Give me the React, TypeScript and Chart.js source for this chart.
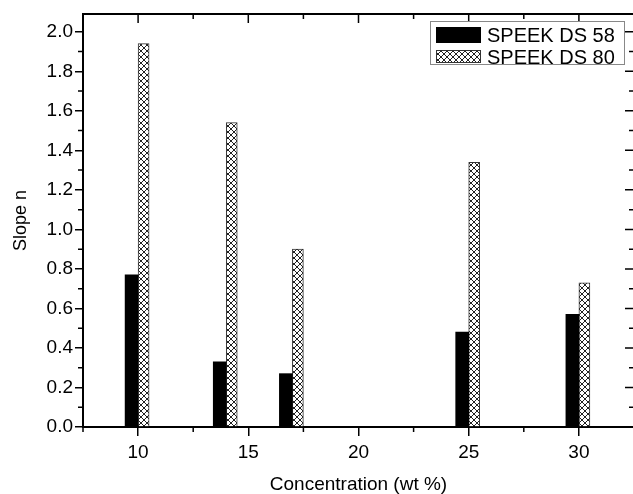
import React, { useEffect, useRef } from 'react';
import { Chart, registerables } from 'chart.js';

Chart.register(...registerables);

const concentrations = [10, 14, 17, 25, 30];
const ds58Values = [0.77, 0.33, 0.27, 0.48, 0.57];
const ds80Values = [1.94, 1.54, 0.9, 1.34, 0.73];
const seriesLabels = ['SPEEK DS 58', 'SPEEK DS 80'];
const xTicks = [10, 15, 20, 25, 30];
const xMinorTicks = [7.5, 12.5, 17.5, 22.5, 27.5, 32.5];
const yTicks = [0, 0.2, 0.4, 0.6, 0.8, 1.0, 1.2, 1.4, 1.6, 1.8, 2.0];
const yMinorTicks = [0.1, 0.3, 0.5, 0.7, 0.9, 1.1, 1.3, 1.5, 1.7, 1.9];
const xTitle = 'Concentration (wt %)';
const yTitle = 'Slope n';

const FONT = '"Liberation Sans", Arial, Helvetica, sans-serif';

function makeHatch(): CanvasPattern | string {
  const c = document.createElement('canvas');
  c.width = 6;
  c.height = 6;
  const g = c.getContext('2d');
  if (!g) return '#ccc';
  g.fillStyle = '#fff';
  g.fillRect(0, 0, 6, 6);
  g.strokeStyle = '#222';
  g.lineWidth = 1;
  g.beginPath();
  g.moveTo(0, 0);
  g.lineTo(6, 6);
  g.moveTo(6, 0);
  g.lineTo(0, 6);
  g.stroke();
  const p = g.createPattern(c, 'repeat');
  return p || '#ccc';
}

export default function App() {
  const ref = useRef<HTMLCanvasElement | null>(null);

  useEffect(() => {
    const canvas = ref.current;
    if (!canvas) return;
    const hatch = makeHatch();

    const framePlugin = {
      id: 'frame',
      afterDraw(chart: any) {
        const { ctx, chartArea: a } = chart;
        const x = chart.scales.x;
        const y = chart.scales.y;
        ctx.save();
        ctx.strokeStyle = '#000';
        ctx.lineWidth = 2;
        ctx.beginPath();
        ctx.moveTo(a.left - 1, a.top);
        ctx.lineTo(a.right, a.top);
        ctx.moveTo(a.right, a.top);
        ctx.lineTo(a.right, a.bottom);
        ctx.stroke();

        ctx.lineWidth = 1.5;
        ctx.beginPath();
        for (const v of xTicks) {
          const px = x.getPixelForValue(v);
          ctx.moveTo(px, a.top);
          ctx.lineTo(px, a.top + 9);
        }
        for (const v of xMinorTicks) {
          const px = x.getPixelForValue(v);
          ctx.moveTo(px, a.bottom);
          ctx.lineTo(px, a.bottom + 5);
          ctx.moveTo(px, a.top);
          ctx.lineTo(px, a.top + 5);
        }
        for (const v of yTicks) {
          const py = y.getPixelForValue(v);
          ctx.moveTo(a.right, py);
          ctx.lineTo(a.right - 9, py);
        }
        for (const v of yMinorTicks) {
          const py = y.getPixelForValue(v);
          ctx.moveTo(a.left, py);
          ctx.lineTo(a.left - 5, py);
          ctx.moveTo(a.right, py);
          ctx.lineTo(a.right - 5, py);
        }
        ctx.stroke();

        // legend
        const bx = a.right - 204;
        const by = a.top + 7;
        ctx.fillStyle = '#fff';
        ctx.fillRect(bx, by, 194, 43);
        ctx.strokeStyle = '#888';
        ctx.lineWidth = 1;
        ctx.strokeRect(bx + 0.5, by + 0.5, 194, 43);

        const ds = chart.data.datasets;
        // swatch 1
        ctx.fillStyle = ds[0].backgroundColor;
        ctx.fillRect(bx + 6, by + 6, 45, 16);
        // swatch 2
        ctx.fillStyle = ds[1].backgroundColor;
        ctx.fillRect(bx + 6, by + 29, 45, 13);
        ctx.strokeStyle = '#333';
        ctx.strokeRect(bx + 6.5, by + 29.5, 44, 12);

        ctx.fillStyle = '#000';
        ctx.font = '20px ' + FONT;
        ctx.textAlign = 'left';
        ctx.textBaseline = 'middle';
        ctx.fillText(ds[0].label, bx + 57, by + 15);
        ctx.fillText(ds[1].label, bx + 57, by + 37);
        ctx.restore();
      },
    };

    const chart = new Chart(canvas, {
      type: 'bar',
      data: {
        datasets: [
          {
            label: seriesLabels[0],
            data: concentrations.map((c, i) => ({ x: c, y: ds58Values[i] })),
            backgroundColor: '#000',
            borderWidth: 0,
            barThickness: 13,
          },
          {
            label: seriesLabels[1],
            data: concentrations.map((c, i) => ({ x: c, y: ds80Values[i] })),
            backgroundColor: hatch as any,
            borderColor: '#333',
            borderWidth: 1,
            barThickness: 11,
          },
        ],
      },
      options: {
        responsive: false,
        animation: false,
        devicePixelRatio: 1,
        layout: { padding: { top: 14, right: 2, left: 0, bottom: 0 } },
        plugins: { legend: { display: false }, tooltip: { enabled: false } },
        scales: {
          x: {
            type: 'linear',
            position: 'bottom',
            min: 7.5,
            max: 32.5,
            offset: false,
            afterFit(scale: any) {
              scale.height = 67;
            },
            afterBuildTicks(scale: any) {
              scale.ticks = xTicks.map((v) => ({ value: v }));
            },
            grid: {
              offset: false,
              drawOnChartArea: false,
              drawTicks: true,
              tickLength: 9,
              lineWidth: 1.5,
              color: '#000',
            },
            border: { display: true, width: 2, color: '#000' },
            ticks: {
              color: '#000',
              padding: 5,
              maxRotation: 0,
              font: { family: FONT, size: 19 },
              callback: (v: any) => String(v),
            },
            title: {
              display: true,
              text: xTitle,
              color: '#000',
              font: { family: FONT, size: 19, lineHeight: 1 },
              padding: { top: 0, bottom: 0 },
            },
          },
          y: {
            type: 'linear',
            min: 0,
            max: 2.09,
            afterFit(scale: any) {
              scale.width = 83;
            },
            afterBuildTicks(scale: any) {
              scale.ticks = yTicks.map((v) => ({ value: v }));
            },
            grid: {
              drawOnChartArea: false,
              drawTicks: true,
              tickLength: 8,
              lineWidth: 1.5,
              color: '#000',
            },
            border: { display: true, width: 2, color: '#000' },
            ticks: {
              color: '#000',
              padding: 2,
              font: { family: FONT, size: 19 },
              callback: (v: any) => Number(v).toFixed(1),
            },
            title: {
              display: true,
              text: yTitle,
              color: '#000',
              font: { family: FONT, size: 18, lineHeight: 1 },
              padding: { top: 12, bottom: 0 },
            },
          },
        },
      },
      plugins: [framePlugin],
    } as any);

    return () => chart.destroy();
  }, []);

  return (
    <div style={{ position: 'fixed', left: 0, top: 0, width: 633, height: 494, overflow: 'hidden', background: '#fff' }}>
      <canvas ref={ref} width={636} height={494} style={{ width: 636, height: 494, display: 'block' }} />
    </div>
  );
}
